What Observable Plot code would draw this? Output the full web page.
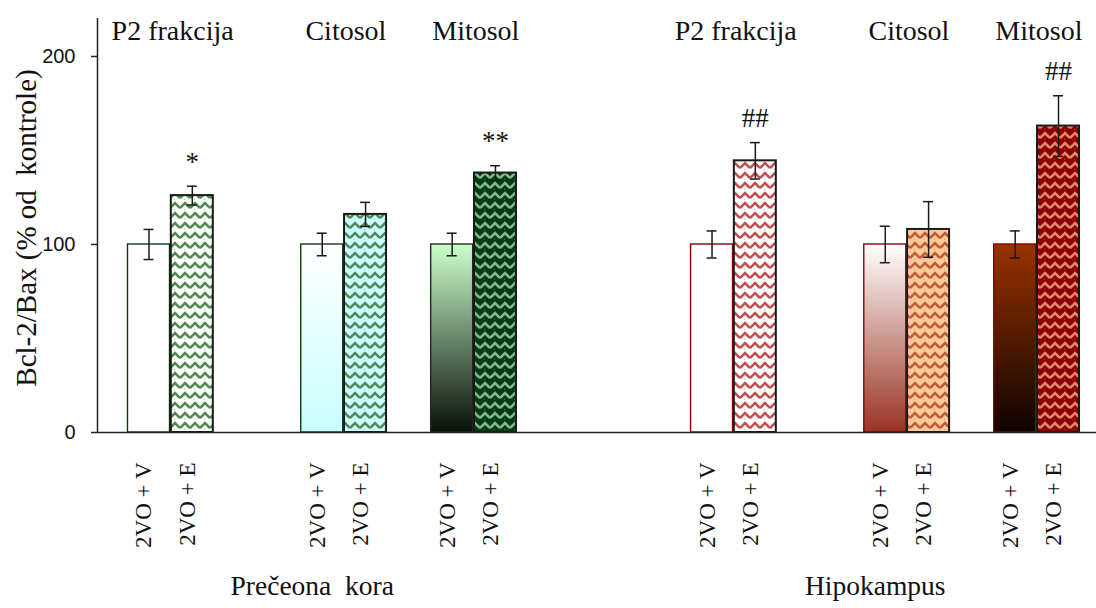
<!DOCTYPE html>
<html><head><meta charset="utf-8">
<script src="https://cdn.jsdelivr.net/npm/d3@7"></script>
<script src="https://cdn.jsdelivr.net/npm/@observablehq/plot@0.6"></script>
<style>body{margin:0;background:#fff;}</style>
</head><body><div id="chart"></div>
<script>
// ---- data ----
const regions = ["Prečeona\u00a0 kora", "Hipokampus"];
const fractions = ["P2 frakcija", "Citosol", "Mitosol"];
const treatments = ["2VO + V", "2VO + E"];
const ratio = [100, 126, 100, 116, 100, 138, 100, 144.5, 100, 108, 100, 163];
const sem = [8, 5, 6, 6.4, 6, 3.9, 7.2, 9.7, 9.7, 14.8, 7.2, 16.1];
const significance = ["", "*", "", "", "", "**", "", "##", "", "", "", "##"];
const yTicks = [0, 100, 200];
const yLabel = "Bcl-2/Bax (% od\u00a0 kontrole)";

// ---- layout / style ----
const fractionOffset = [0, 4, 7];
const regionOffset = [0, 13];
const gradients = {
  "g-pk-cyt": ["#ffffff", "#c8ffff"],
  "g-pk-mit": ["#ccffcc", "#081008"],
  "g-hip-cyt": ["#ffffff", "#993322"],
  "g-hip-mit": ["#993300", "#0d0300"]
};
const patterns = {
  "p-pk-p2": ["#ffffff", "#4f8a4f"],
  "p-pk-cyt": ["#ccffff", "#4f8a5a"],
  "p-pk-mit": ["#053a12", "#7fb88f"],
  "p-hip-p2": ["#ffffff", "#c25050"],
  "p-hip-cyt": ["#ffcc99", "#c25a3a"],
  "p-hip-mit": ["#8b0000", "#e08a6a"]
};
const barFill = [
  "#ffffff", "url(#p-pk-p2)", "url(#g-pk-cyt)", "url(#p-pk-cyt)", "url(#g-pk-mit)", "url(#p-pk-mit)",
  "#ffffff", "url(#p-hip-p2)", "url(#g-hip-cyt)", "url(#p-hip-cyt)", "url(#g-hip-mit)", "url(#p-hip-mit)"
];
const barStroke = [
  "#0d3d0d", "#1a1a1a", "#0d3d0d", "#1a1a1a", "#1f2a1f", "#1a1a1a",
  "#8b0000", "#1a1a1a", "#8b0000", "#1a1a1a", "#8b0000", "#1a1a1a"
];

const bars = [];
regions.forEach((region, r) => fractions.forEach((fraction, f) => treatments.forEach((treatment, t) => {
  const i = r * 6 + f * 2 + t;
  bars.push({region, fraction, treatment, t, value: ratio[i], err: sem[i], sig: significance[i],
             slot: regionOffset[r] + fractionOffset[f] + t, fill: barFill[i], stroke: barStroke[i]});
})));
const fracLabels = [];
regions.forEach((region, r) => fractions.forEach((fraction, f) =>
  fracLabels.push({text: fraction, x: regionOffset[r] + fractionOffset[f] + 0.5})));
const regionLabels = regions.map((region, r) => ({text: region, x: regionOffset[r] + 4}));

const half = 0.485, cap = 0.115;
const xMin = -1.189, xMax = 21.877, pxPerSlot = 999 / (xMax - xMin);
const serif = "Liberation Serif, Times New Roman, serif";
const sans = "Liberation Sans, Arial, sans-serif";

const svg = Plot.plot({
  width: 1096, height: 608,
  marginLeft: 97, marginRight: 0, marginTop: 18, marginBottom: 176,
  x: {domain: [xMin, xMax], axis: null},
  y: {domain: [0, 220.2], axis: null},
  color: {type: "identity"},
  marks: [
    Plot.rect(bars.filter(d => d.t === 0), {x1: d => d.slot - half, x2: d => d.slot + half, y1: 0, y2: "value",
      fill: "fill", stroke: "stroke", strokeWidth: 1.4}),
    Plot.rect(bars.filter(d => d.t === 1), {x1: d => d.slot - half, x2: d => d.slot + half, y1: 0, y2: "value",
      fill: "fill", stroke: "stroke", strokeWidth: 2}),
    Plot.ruleX(bars, {x: "slot", y1: d => d.value - d.err, y2: d => d.value + d.err, stroke: "#1a1a1a", strokeWidth: 1.5}),
    Plot.ruleY(bars, {y: d => d.value + d.err, x1: d => d.slot - cap, x2: d => d.slot + cap, stroke: "#1a1a1a", strokeWidth: 1.5}),
    Plot.ruleY(bars, {y: d => d.value - d.err, x1: d => d.slot - cap, x2: d => d.slot + cap, stroke: "#1a1a1a", strokeWidth: 1.5}),
    Plot.ruleY([0], {stroke: "#222", strokeWidth: 1.5}),
    Plot.ruleX([xMin], {stroke: "#222", strokeWidth: 1.5}),
    // y ticks and tick labels
    Plot.ruleY(yTicks, {y: d => d, x1: xMin - 6 / pxPerSlot, x2: xMin, stroke: "#222", strokeWidth: 1.5}),
    Plot.text(yTicks, {y: d => d, x: xMin, text: d => String(d), textAnchor: "end", dx: -22,
      fontSize: 20, fontFamily: sans, fill: "#111"}),
    Plot.text([yLabel], {text: d => d, frameAnchor: "left", textAnchor: "middle", dx: -70.6, dy: 2.5, rotate: -90,
      fontSize: 29, fontFamily: serif, fill: "#111"}),
    Plot.text(bars.filter(d => d.sig), {x: "slot", y: d => d.value + d.err, text: "sig", dy: -24,
      fontSize: 27, fontFamily: serif, fill: "#111"}),
    Plot.text(fracLabels, {x: "x", text: "text", frameAnchor: "top", lineAnchor: "top", dx: 2, dy: 2,
      fontSize: 28, fontFamily: serif, fill: "#111"}),
    Plot.text(bars, {x: "slot", text: "treatment", frameAnchor: "bottom", rotate: -90, textAnchor: "end",
      dx: 2.5, dy: 30, fontSize: 23, fontFamily: serif, fill: "#111"}),
    Plot.text(regionLabels, {x: "x", text: "text", frameAnchor: "bottom", dx: -10, dy: 162.4,
      fontSize: 27.5, fontFamily: serif, fill: "#111"})
  ]
});

// defs: gradients and patterns
const defs = d3.select(svg).insert("defs", ":first-child");
for (const [id, [c0, c1]] of Object.entries(gradients)) {
  const g = defs.append("linearGradient").attr("id", id).attr("x1", 0).attr("y1", 0).attr("x2", 0).attr("y2", 1);
  g.append("stop").attr("offset", "0%").attr("stop-color", c0);
  g.append("stop").attr("offset", "100%").attr("stop-color", c1);
}
for (const [id, [bg, fg]] of Object.entries(patterns)) {
  const p = defs.append("pattern").attr("id", id).attr("patternUnits", "userSpaceOnUse")
    .attr("width", 10).attr("height", 10);
  p.append("rect").attr("width", 10).attr("height", 10).attr("fill", bg);
  p.append("path").attr("d", "M0,8 L5,3 L10,8").attr("fill", "none").attr("stroke", fg)
    .attr("stroke-width", 2.6).attr("stroke-linejoin", "miter");
  p.append("path").attr("d", "M-1,-1 L0,0 M10,0 L11,1 M4.5,9.5 L5.5,10.5").attr("fill", "none").attr("stroke", fg)
    .attr("stroke-width", 1);
}
document.getElementById("chart").appendChild(svg);
</script>
</body></html>
